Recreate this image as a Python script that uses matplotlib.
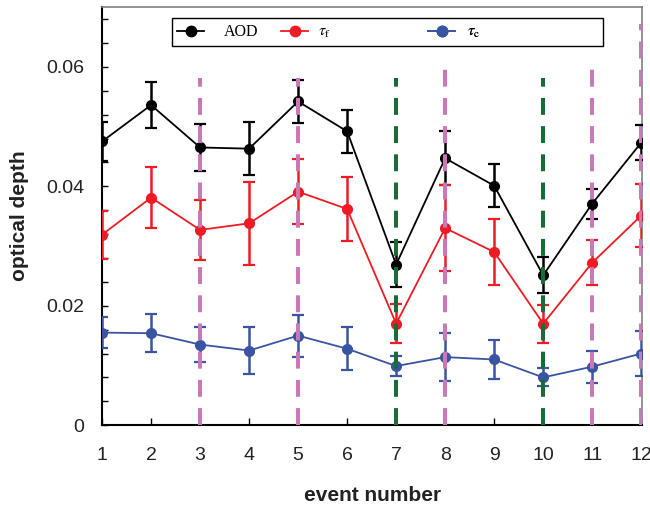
import matplotlib
matplotlib.use("Agg")
import matplotlib.pyplot as plt
from matplotlib.lines import Line2D
from matplotlib.patches import Rectangle
import numpy as np

# event numbers
events = np.arange(1, 13)

# AOD and its error
aod = [0.0475, 0.0536, 0.0465, 0.0463, 0.0542, 0.0492, 0.0269, 0.0447, 0.0401, 0.0251, 0.0371, 0.0473]
aod_err = [0.0032, 0.0038, 0.0040, 0.0044, 0.0036, 0.0036, 0.0037, 0.0045, 0.0036, 0.0030, 0.0025, 0.0029]

# fine mode optical depth
tau_f = [0.0319, 0.0381, 0.0327, 0.0338, 0.0391, 0.0362, 0.0170, 0.0330, 0.0290, 0.0170, 0.0272, 0.0351]
tau_f_err = [0.0040, 0.0051, 0.0050, 0.0070, 0.0054, 0.0054, 0.0033, 0.0072, 0.0055, 0.0032, 0.0038, 0.0053]

# coarse mode optical depth
tau_c = [0.0155, 0.0154, 0.0135, 0.0125, 0.0150, 0.0128, 0.0099, 0.0114, 0.0110, 0.0080, 0.0098, 0.0120]
tau_c_err = [0.0026, 0.0032, 0.0029, 0.0040, 0.0035, 0.0036, 0.0017, 0.0040, 0.0033, 0.0015, 0.0027, 0.0038]

# marker lines for special events
pink_events = [3, 5, 8, 11, 12]
pink_tops = [0.0582, 0.0582, 0.0601, 0.0601, 0.0672]
green_events = [7, 10]
green_tops = [0.0582, 0.0582]

plt.rcParams['font.family'] = ['Liberation Sans', 'DejaVu Sans']
plt.rcParams['mathtext.fontset'] = 'stix'

fig = plt.figure(figsize=(6.5, 5.08), dpi=100)
ax = fig.add_axes([0.157, 0.163, 0.831, 0.823])

series = [
    (aod, aod_err, 'black', 'AOD'),
    (tau_f, tau_f_err, '#ED1C24', r'$\tau_\mathrm{f}$'),
    (tau_c, tau_c_err, '#3A54A4', r'$\tau_\mathrm{c}$'),
]
for vals, errs, col, lab in series:
    ax.errorbar(events, vals, yerr=errs, color=col, marker='o', markersize=7,
                linewidth=1.3, elinewidth=1.8, capsize=4.5, capthick=1.6, zorder=3)

for x, top in zip(pink_events, pink_tops):
    ax.plot([x, x], [0, top], color='#C978B8', linewidth=2.9,
            linestyle=(0, (4.2, 2.8)), zorder=4)
for x, top in zip(green_events, green_tops):
    ax.plot([x, x], [0, top], color='#1A6B35', linewidth=2.9,
            linestyle=(0, (4.2, 2.8)), zorder=4)

ax.set_xlim(1, 12.02)
ax.set_ylim(0, 0.07)
ax.set_xticks(events)
ax.set_yticks([0, 0.02, 0.04, 0.06])
ax.set_yticklabels(['0', '0.02', '0.04', '0.06'])
ax.set_yticks(np.arange(0, 0.07, 0.004), minor=True)
ax.tick_params(axis='both', which='both', direction='in', labelsize=14, colors='black')
ax.tick_params(axis='y', which='both', length=4.5, width=1, pad=13)
ax.tick_params(axis='x', which='major', length=5, width=1, pad=16)
ax.tick_params(axis='both', labelcolor='#222222')

for side in ['left', 'bottom']:
    ax.spines[side].set_linewidth(1.5)
    ax.spines[side].set_color('black')
for side in ['top', 'right']:
    ax.spines[side].set_linewidth(1.2)
    ax.spines[side].set_color('#808080')

ax.set_xlabel('event number', fontsize=15, fontweight='bold', color='#222222')
ax.set_ylabel('optical depth', fontsize=15, fontweight='bold', color='#222222')
ax.xaxis.set_label_coords(0.5, -0.145)
ax.yaxis.set_label_coords(-0.135, 0.5)

# legend: frame box plus three entries spread out like the original
ax.add_patch(Rectangle((0.1296, 0.9067), 0.7982, 0.067, transform=ax.transAxes,
                       facecolor='white', edgecolor='black', linewidth=1.0, zorder=5))
leg_x = [0.139, 0.3315, 0.6037]
leg_pad = [1.2, 0.6, 0.75]
for (vals, errs, col, lab), lx, tp in zip(series, leg_x, leg_pad):
    h = Line2D([], [], color=col, marker='o', markersize=7.5, linewidth=1.3)
    leg = ax.legend(handles=[h], labels=[lab], loc='center left',
                    bbox_to_anchor=(lx, 0.940), frameon=False,
                    prop={'family': 'Liberation Serif', 'size': 11.5},
                    handlelength=1.7, handletextpad=tp, borderpad=0, borderaxespad=0)
    leg.set_zorder(6)
    ax.add_artist(leg)

fig.savefig('out.png', dpi=100)
